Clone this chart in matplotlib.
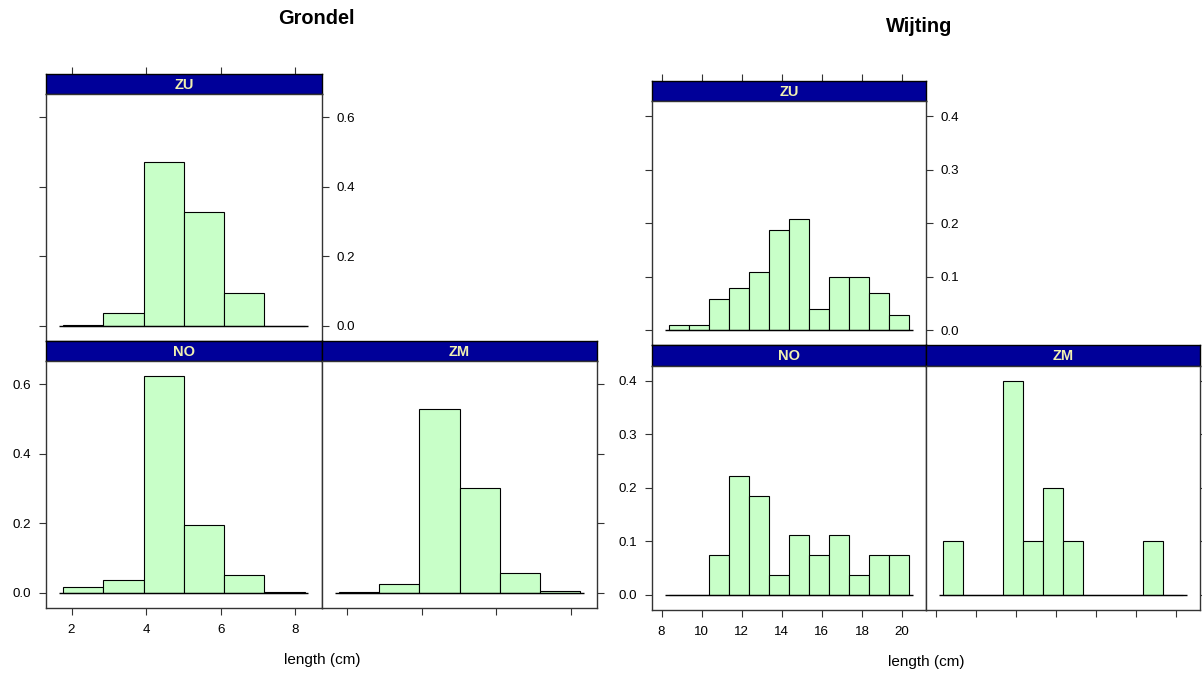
import matplotlib.pyplot as plt

plt.rcParams['font.family'] = ['Liberation Sans', 'DejaVu Sans']

# Grondel: lengteklassen en dichtheden per gebied
grondel_breaks = [1.77, 2.85, 3.93, 5.01, 6.09, 7.17, 8.25]
grondel_no = [0.018, 0.038, 0.623, 0.196, 0.052, 0.001]
grondel_zm = [0.003, 0.026, 0.530, 0.302, 0.058, 0.006]
grondel_zu = [0.003, 0.037, 0.470, 0.328, 0.093, 0.0]
grondel_xticks = [2, 4, 6, 8]
grondel_yticks = [0.0, 0.2, 0.4, 0.6]

# Wijting
wijting_breaks = [8.35, 9.35, 10.35, 11.35, 12.35, 13.35, 14.35,
                  15.35, 16.35, 17.35, 18.35, 19.35, 20.35]
wijting_no = [0.0, 0.0, 0.0741, 0.2222, 0.1852, 0.0370, 0.1111,
              0.0741, 0.1111, 0.0370, 0.0741, 0.0741]
wijting_zm = [0.1, 0.0, 0.0, 0.4, 0.1, 0.2, 0.1, 0.0, 0.0, 0.0, 0.1, 0.0]
wijting_zu = [0.0099, 0.0099, 0.0594, 0.0792, 0.1089, 0.1881, 0.2079,
              0.0396, 0.0990, 0.0990, 0.0693, 0.0297]
wijting_xticks = [8, 10, 12, 14, 16, 18, 20]
wijting_yticks = [0.0, 0.1, 0.2, 0.3, 0.4]

W, H = 1202, 673
BAR = '#C8FFC8'
STRIP = '#000099'
STRIP_TXT = '#F0F0B0'
EDGE = '#333333'

fig = plt.figure(figsize=(W / 100, H / 100), dpi=100)


def px_axes(x, y, w, h):
    # pixelcoordinaten (linksboven) omzetten naar figuurfracties
    return fig.add_axes([x / W, 1 - (y + h) / H, w / W, h / H])


def strip(x, y, w, h, label, xlim=None, xticks=None):
    ax = px_axes(x, y, w, h)
    ax.set_facecolor(STRIP)
    ax.set_yticks([])
    if xticks is None:
        ax.set_xticks([])
    else:
        # as-streepjes boven de bovenste strip, zonder labels
        ax.set_xlim(xlim)
        ax.set_xticks(xticks)
        ax.tick_params(axis='x', direction='out', length=5, width=0.8,
                       color=EDGE, bottom=False, labelbottom=False,
                       top=True, labeltop=False)
    for s in ax.spines.values():
        s.set_color('black')
        s.set_linewidth(1.0)
    ax.text(0.5, 0.45, label, transform=ax.transAxes, ha='center', va='center',
            color=STRIP_TXT, fontsize=10.5, fontweight='bold')


def panel(x, y, w, h, breaks, dens, xlim, ylim, xticks, yticks, sides):
    ax = px_axes(x, y, w, h)
    widths = [b - a for a, b in zip(breaks[:-1], breaks[1:])]
    pad = 0.015 * (breaks[-1] - breaks[0])
    ax.hlines(0, breaks[0] - pad, breaks[-1] + pad, color='black', lw=1.0)
    ax.bar(breaks[:-1], dens, width=widths, align='edge', color=BAR,
           edgecolor='black', linewidth=0.8)
    ax.set_xlim(xlim)
    ax.set_ylim(ylim)
    ax.set_xticks(xticks)
    ax.set_yticks(yticks)
    ax.set_yticklabels([f'{v:.1f}' for v in yticks])
    ax.tick_params(direction='out', length=5, width=0.8, color=EDGE,
                   labelsize=9.6, labelcolor='black',
                   bottom='b' in sides, labelbottom='B' in sides,
                   top=False, labeltop=False,
                   left='l' in sides, labelleft='L' in sides,
                   right='r' in sides, labelright='R' in sides)
    ax.tick_params(axis='x', pad=6.5)
    ax.tick_params(axis='y', pad=5.5)
    for s in ax.spines.values():
        s.set_color(EDGE)
        s.set_linewidth(1.0)
    return ax


def lattice(x0, y0, pw, sh, ph, breaks, data, xticks, yticks, ymax, title, tpos, lpos):
    rng = breaks[-1] - breaks[0]
    xlim = (breaks[0] - 0.07 * rng, breaks[-1] + 0.07 * rng)
    ylim = (-0.07 * ymax, 1.07 * ymax)
    no, zm, zu = data
    # bovenste rij: ZU
    strip(x0, y0, pw, sh, 'ZU', xlim, xticks)
    panel(x0, y0 + sh, pw, ph, breaks, zu, xlim, ylim, xticks, yticks, 'lrR')
    # onderste rij: NO en ZM
    y1 = y0 + sh + ph
    strip(x0, y1, pw, sh, 'NO')
    panel(x0, y1 + sh, pw, ph, breaks, no, xlim, ylim, xticks, yticks, 'bBlL')
    strip(x0 + pw, y1, pw, sh, 'ZM')
    panel(x0 + pw, y1 + sh, pw, ph, breaks, zm, xlim, ylim, xticks, yticks, 'br')
    fig.text(tpos[0] / W, 1 - tpos[1] / H, title, ha='center', va='center',
             fontsize=14.4, fontweight='bold')
    fig.text(lpos[0] / W, 1 - lpos[1] / H, 'length (cm)', ha='center',
             va='center', fontsize=11)


lattice(46, 74, 275.7, 20, 247, grondel_breaks,
        (grondel_no, grondel_zm, grondel_zu), grondel_xticks, grondel_yticks,
        0.623, 'Grondel', (316, 19), (322, 660))
lattice(651.7, 81, 274.3, 20, 244.5, wijting_breaks,
        (wijting_no, wijting_zm, wijting_zu), wijting_xticks, wijting_yticks,
        0.4, 'Wijting', (919, 27), (926, 662))

fig.savefig('out.png', dpi=100)
